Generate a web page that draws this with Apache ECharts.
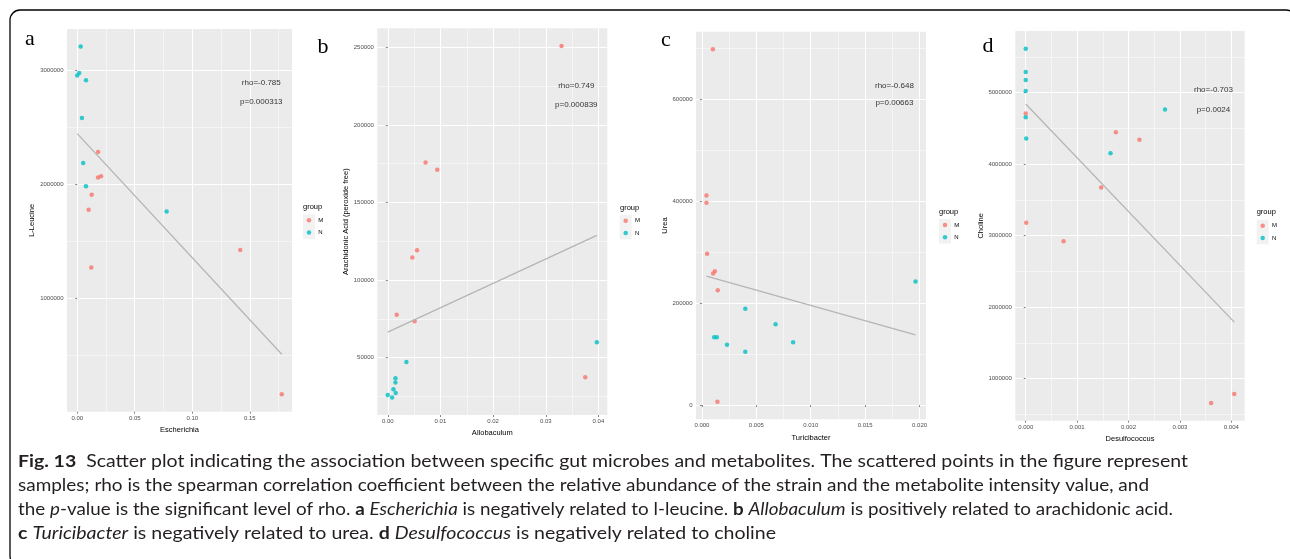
<!DOCTYPE html>
<html><head><meta charset="utf-8">
<script src="https://cdn.jsdelivr.net/npm/echarts@6/dist/echarts.min.js"></script>
<style>html,body{margin:0;padding:0;background:#fff}#c{width:1290px;height:559px}</style>
</head><body><div id="c"></div>
<script>
// ---------- Panel a : Escherichia vs L-Leucine ----------
const aX_M = [0.0181, 0.0181, 0.0207, 0.0126, 0.0099, 0.0122, 0.1417, 0.1778];
const aY_M = [2281000, 2059000, 2070000, 1907000, 1775000, 1270000, 1423000, 157000];
const aX_N = [0.0030, 0.0017, 0.0000, 0.0076, 0.0041, 0.0052, 0.0076, 0.0777];
const aY_N = [3208000, 2974000, 2953000, 2912000, 2580000, 2185000, 1982000, 1760000];
const aFitX = [0, 0.1778];
const aFitY = [2443000, 508000];
const aXTicks = ['0.00', '0.05', '0.10', '0.15'];
const aYTicks = ['1000000', '2000000', '3000000'];
const aText = ['rho=-0.785', 'p=0.000313'];
const aTextX = [0.160, 0.160];
const aTextY = [2886000, 2721000];

// ---------- Panel b : Allobaculum vs Arachidonic Acid ----------
const bX_M = [0.0330, 0.00718, 0.0094, 0.00556, 0.00467, 0.0017, 0.0051, 0.0375];
const bY_M = [251000, 175800, 171100, 119200, 114500, 77600, 73500, 37300];
const bX_N = [0.00354, 0.00146, 0.00146, 0.00108, 0.00151, 0.0, 0.00083, 0.0397];
const bY_N = [47200, 36700, 33900, 29500, 27200, 25900, 24300, 59800];
const bFitX = [0, 0.0397];
const bFitY = [66450, 128850];
const bXTicks = ['0.00', '0.01', '0.02', '0.03', '0.04'];
const bYTicks = ['50000', '100000', '150000', '200000', '250000'];
const bText = ['rho=0.749', 'p=0.000839'];
const bTextX = [0.0358, 0.0358];
const bTextY = [225560, 212900];

// ---------- Panel c : Turicibacter vs Urea ----------
const cX_M = [0.00101, 0.00042, 0.00042, 0.00048, 0.00119, 0.00103, 0.00146, 0.00143];
const cY_M = [698000, 411200, 396900, 296900, 262700, 258200, 225500, 6700];
const cX_N = [0.00399, 0.00677, 0.00113, 0.00137, 0.00838, 0.00231, 0.00399, 0.01963];
const cY_N = [189000, 158800, 133300, 133300, 123500, 118400, 104700, 242600];
const cFitX = [0.00042, 0.01963];
const cFitY = [252900, 138000];
const cXTicks = ['0.000', '0.005', '0.010', '0.015', '0.020'];
const cYTicks = ['0', '200000', '400000', '600000'];
const cText = ['rho=-0.648', 'p=0.00663'];
const cTextX = [0.01769, 0.01769];
const cTextY = [626900, 592200];

// ---------- Panel d : Desulfococcus vs Choline ----------
const dX_M = [0.0, 0.00001, 0.000736, 0.001468, 0.001754, 0.002212, 0.003608, 0.004058];
const dY_M = [4707000, 3182000, 2921000, 3674000, 4446000, 4340000, 661000, 786000];
const dX_N = [0.0, 0.0, 0.0, 0.0, 0.0, 0.00001, 0.00165, 0.00271];
const dY_N = [5614000, 5289000, 5177000, 5024000, 4655000, 4358000, 4153000, 4763000];
const dFitX = [0, 0.004058];
const dFitY = [4842000, 1791000];
const dXTicks = ['0.000', '0.001', '0.002', '0.003', '0.004'];
const dYTicks = ['1000000', '2000000', '3000000', '4000000', '5000000'];
const dText = ['rho=-0.703', 'p=0.0024'];
const dTextX = [0.003653, 0.003653];
const dTextY = [5046000, 4763000];

const groupNames = ['M', 'N'];
const letters = ['a', 'b', 'c', 'd'];
const xNames = ['Escherichia', 'Allobaculum', 'Turicibacter', 'Desulfococcus'];
const yNames = ['L-Leucine', 'Arachidonic Acid (peroxide free)', 'Urea', 'Choline'];

// caption: segments [style, text] per line
const captionLines = [
  [['b', 'Fig. 13'], ['n', '  Scatter plot indicating the association between specific gut microbes and metabolites. The scattered points in the figure represent']],
  [['n', 'samples; rho is the spearman correlation coefficient between the relative abundance of the strain and the metabolite intensity value, and']],
  [['n', 'the '], ['i', 'p'], ['n', '-value is the significant level of rho. '], ['b', 'a'], ['n', ' '], ['i', 'Escherichia'], ['n', ' is negatively related to l-leucine. '], ['b', 'b'], ['n', ' '], ['i', 'Allobaculum'], ['n', ' is positively related to arachidonic acid.']],
  [['b', 'c'], ['n', ' '], ['i', 'Turicibacter'], ['n', ' is negatively related to urea. '], ['b', 'd'], ['n', ' '], ['i', 'Desulfococcus'], ['n', ' is negatively related to choline']]
];

// ---------- layout (pixels) ----------
const COL_M = '#F8766D', COL_N = '#00BFC4';
const FF = 'Liberation Sans';
const layout = [
  {grid: {left: 67, top: 29, width: 225, height: 382.7}, xGap: 14, yGap: 29, dotX: 309, row1: 220.3, titleX: 303, titleY: 207.3, letX: 30, letY: 39},
  {grid: {left: 377.3, top: 28.3, width: 230, height: 386.7}, xGap: 12.5, yGap: 26, dotX: 625.7, row1: 220.7, titleX: 620, titleY: 208, letX: 323, letY: 47},
  {grid: {left: 696, top: 31.7, width: 230, height: 387.6}, xGap: 11, yGap: 26.5, dotX: 945, row1: 225, titleX: 939, titleY: 212.3, letX: 666, letY: 40},
  {grid: {left: 1015.3, top: 31, width: 229.4, height: 389.7}, xGap: 11, yGap: 29.5, dotX: 1262.7, row1: 225.7, titleX: 1256.7, titleY: 212.3, letX: 988, letY: 46}
];
const panels = [
  {xM: aX_M, yM: aY_M, xN: aX_N, yN: aY_N, fx: aFitX, fy: aFitY, xt: aXTicks, yt: aYTicks, tx: aText, txX: aTextX, txY: aTextY},
  {xM: bX_M, yM: bY_M, xN: bX_N, yN: bY_N, fx: bFitX, fy: bFitY, xt: bXTicks, yt: bYTicks, tx: bText, txX: bTextX, txY: bTextY},
  {xM: cX_M, yM: cY_M, xN: cX_N, yN: cY_N, fx: cFitX, fy: cFitY, xt: cXTicks, yt: cYTicks, tx: cText, txX: cTextX, txY: cTextY},
  {xM: dX_M, yM: dY_M, xN: dX_N, yN: dY_N, fx: dFitX, fy: dFitY, xt: dXTicks, yt: dYTicks, tx: dText, txX: dTextX, txY: dTextY}
];

function expand(vals) { const lo = Math.min(...vals), hi = Math.max(...vals), d = (hi - lo) * 0.05; return [lo - d, hi + d]; }
function minorsOf(ticks, lo, hi) {
  const v = ticks.map(Number), step = v[1] - v[0], out = [];
  for (let k = -1; k <= v.length; k++) { const t = v[0] + step * (k + 0.5); if (t >= lo && t <= hi) out.push(t); }
  return out;
}
function labelFor(labels) {
  return function (v) {
    let best = labels[0], bd = Infinity;
    labels.forEach(l => { const d = Math.abs(Number(l) - v); if (d < bd) { bd = d; best = l; } });
    return best;
  };
}

const grids = [], xAxes = [], yAxes = [], series = [], legends = [], graphics = [];
panels.forEach((p, i) => {
  const L = layout[i];
  grids.push(Object.assign({show: true, backgroundColor: '#EBEBEB', borderWidth: 0}, L.grid));
  const [x0, x1] = expand(p.xM.concat(p.xN));
  const [y0, y1] = expand(p.yM.concat(p.yN));
  const xv = p.xt.map(Number), yv = p.yt.map(Number);
  const xmv = minorsOf(p.xt, x0, x1), ymv = minorsOf(p.yt, y0, y1);
  const tickStyle = {show: true, length: 2, lineStyle: {color: '#333333', width: 0.6}};
  const lab = {fontSize: 6, color: '#4D4D4D', fontFamily: FF, margin: 3.5};
  xAxes.push({type: 'value', gridIndex: i, min: x0, max: x1, position: 'bottom',
    axisLine: {show: false}, axisTick: Object.assign({customValues: xv}, tickStyle),
    axisLabel: Object.assign({customValues: xv, formatter: labelFor(p.xt)}, lab),
    splitLine: {show: true, lineStyle: {color: '#FFFFFF', width: 1}},
    name: xNames[i], nameLocation: 'middle', nameGap: L.xGap,
    nameTextStyle: {fontSize: 7.5, color: '#000', fontFamily: FF}});
  xAxes.push({type: 'value', gridIndex: i, min: x0, max: x1, position: 'top',
    axisLine: {show: false}, axisTick: {show: false, customValues: xmv},
    axisLabel: {show: false, customValues: xmv},
    splitLine: {show: true, lineStyle: {color: '#FFFFFF', width: 0.5}}});
  yAxes.push({type: 'value', gridIndex: i, min: y0, max: y1, position: 'left',
    axisLine: {show: false}, axisTick: Object.assign({customValues: yv}, tickStyle),
    axisLabel: Object.assign({customValues: yv, formatter: labelFor(p.yt)}, lab),
    splitLine: {show: true, lineStyle: {color: '#FFFFFF', width: 1}},
    name: yNames[i], nameLocation: 'middle', nameGap: L.yGap,
    nameTextStyle: {fontSize: 7.5, color: '#000', fontFamily: FF}});
  yAxes.push({type: 'value', gridIndex: i, min: y0, max: y1, position: 'right',
    axisLine: {show: false}, axisTick: {show: false, customValues: ymv},
    axisLabel: {show: false, customValues: ymv},
    splitLine: {show: true, lineStyle: {color: '#FFFFFF', width: 0.5}}});
  const xi = 2 * i, yi = 2 * i;
  series.push({type: 'scatter', name: 'M', xAxisIndex: xi, yAxisIndex: yi, symbolSize: 4.5,
    itemStyle: {color: COL_M}, data: p.xM.map((x, k) => [x, p.yM[k]]), z: 3});
  series.push({type: 'scatter', name: 'N', xAxisIndex: xi, yAxisIndex: yi, symbolSize: 4.5,
    itemStyle: {color: COL_N}, data: p.xN.map((x, k) => [x, p.yN[k]]), z: 3});
  series.push({type: 'line', name: 'fit' + i, xAxisIndex: xi, yAxisIndex: yi, showSymbol: false, symbol: 'none',
    lineStyle: {color: '#B5B5B5', width: 1.3}, data: p.fx.map((x, k) => [x, p.fy[k]]), z: 4});
  series.push({type: 'scatter', name: 'txt' + i, xAxisIndex: xi, yAxisIndex: yi, symbolSize: 0,
    data: p.txX.map((x, k) => ({value: [x, p.txY[k]], name: p.tx[k]})),
    label: {show: true, position: 'inside', formatter: '{b}', fontSize: 8, color: '#000', fontFamily: FF}, z: 5});
  legends.push({data: groupNames, orient: 'vertical', left: L.dotX - 2.25, top: L.row1 - 3, padding: 0,
    itemWidth: 4.5, itemHeight: 4.5, itemGap: 6.3, icon: 'circle',
    textStyle: {fontSize: 6, lineHeight: 6, color: '#000', fontFamily: FF, padding: [0, 0, 0, 2]}, selectedMode: false});
  graphics.push({type: 'rect', shape: {x: L.dotX - 6, y: L.row1 - 6, width: 12, height: 24.6}, style: {fill: '#F2F2F2'}, z: -1, silent: true});
  graphics.push({type: 'text', style: {x: L.titleX, y: L.titleY, text: 'group', font: '7.5px "Liberation Sans"', fill: '#000', verticalAlign: 'middle', align: 'left'}});
  graphics.push({type: 'text', style: {x: L.letX, y: L.letY, text: letters[i], font: '22px "Liberation Serif"', fill: '#000', verticalAlign: 'middle', align: 'center'}});
});

// frame
graphics.push({type: 'rect', shape: {x: 10, y: 10, width: 1286, height: 556, r: 10}, style: {fill: 'none', stroke: '#000', lineWidth: 1.3}, z: -2, silent: true});

// caption (each line fitted to the width it has in the reference)
const CAP_FAM = 'Lato';
const CAP_SIZE = 17;
const capStyles = {
  n: {fontStyle: 'normal', fontWeight: 'normal'},
  b: {fontStyle: 'normal', fontWeight: 'bold'},
  i: {fontStyle: 'italic', fontWeight: 'normal'}
};
const capEnds = [1188, 1149, 1173, 776];
const capYs = [462, 486, 510, 534];
const capX = 18;
const cv = document.createElement('canvas').getContext('2d');
const rich = {};
Object.keys(capStyles).forEach(k => { rich[k] = Object.assign({fontSize: CAP_SIZE, fontFamily: CAP_FAM, fill: '#231F20'}, capStyles[k]); });
captionLines.forEach((segs, li) => {
  let w = 0, txt = '';
  segs.forEach(([s, t]) => {
    const st = capStyles[s];
    cv.font = st.fontStyle + ' ' + st.fontWeight + ' ' + CAP_SIZE + 'px ' + CAP_FAM;
    w += cv.measureText(t).width;
    txt += '{' + s + '|' + t + '}';
  });
  const sx = (capEnds[li] - capX) / w;
  graphics.push({type: 'text', x: capX, y: capYs[li], scaleX: sx, scaleY: 1,
    style: {x: 0, y: 0, text: txt, rich: rich, fontSize: CAP_SIZE, fontFamily: CAP_FAM, fill: '#231F20', verticalAlign: 'middle', align: 'left'}});
});

const chart = echarts.init(document.getElementById('c'), null, {renderer: 'canvas'});
chart.setOption({
  animation: false,
  backgroundColor: '#FFFFFF',
  grid: grids, xAxis: xAxes, yAxis: yAxes, series: series, legend: legends,
  graphic: {elements: graphics}
});
</script>
</body></html>
